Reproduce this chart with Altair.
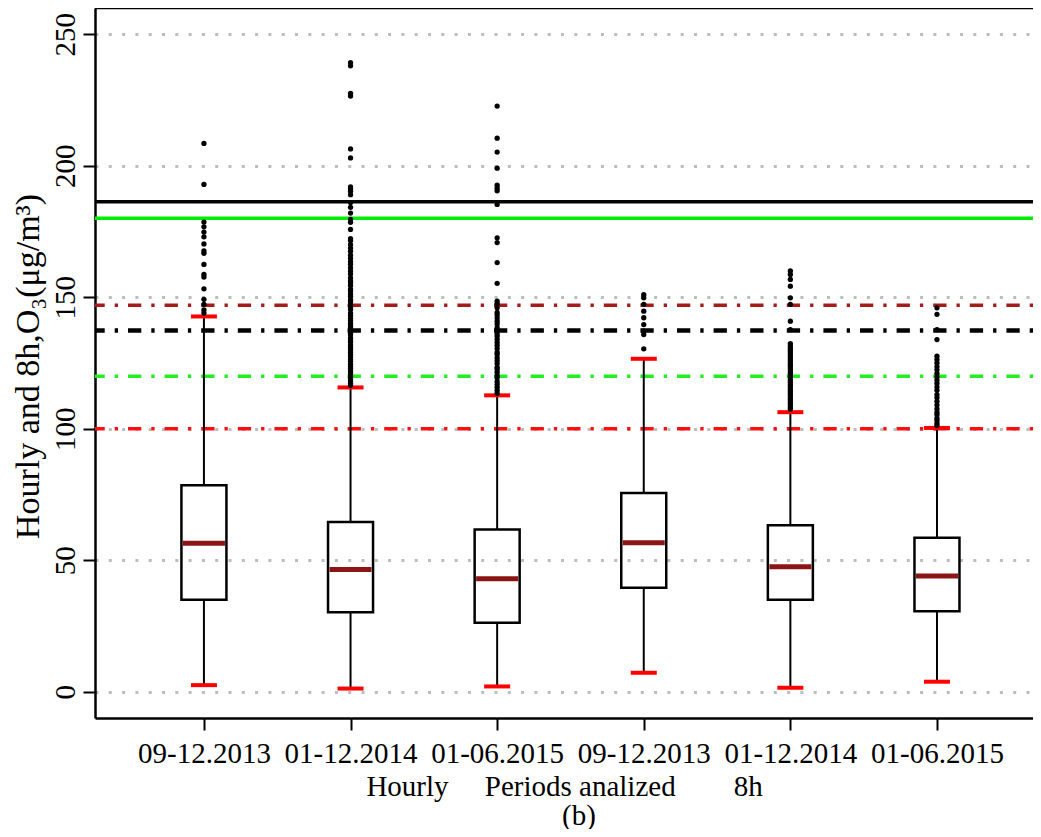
import json
import pandas as pd
import altair as alt

# ---------------- data ----------------
periods = ["09-12.2013", "01-12.2014", "01-06.2015", "09-12.2013", "01-12.2014", "01-06.2015"]
positions = [1, 2, 3, 4, 5, 6]
whisker_low = [2.5, 1.2, 2.0, 7.2, 1.5, 3.8]
q1 = [35.0, 30.2, 26.2, 39.5, 35.0, 30.6]
median = [56.5, 46.5, 43.0, 56.6, 47.5, 44.0]
q3 = [78.5, 64.5, 61.7, 75.6, 63.3, 58.5]
whisker_high = [142.7, 115.7, 112.7, 126.6, 106.3, 100.3]

outliers_1 = [144.0, 145.2, 147.3, 149.2, 153.2, 157.7, 158.7, 162.5, 166.7, 167.6,
              170.3, 173.0, 174.8, 176.8, 178.6, 192.9, 208.5]
outliers_2 = [116.5, 117.2, 118.0, 118.9, 119.6, 120.4, 121.3, 122.0, 123.0, 123.8,
              124.5, 125.6, 126.3, 127.4, 128.2, 129.0, 130.1, 131.0, 131.8, 132.9,
              133.6, 134.5, 135.7, 136.4, 137.2, 138.5, 139.3, 140.1, 141.2, 142.0,
              143.1, 144.0, 145.3, 146.1, 147.0, 148.2, 149.0, 150.3, 151.2, 152.4,
              153.1, 154.5, 155.6, 156.3, 157.4, 158.8, 160.0, 161.2, 162.6, 163.5,
              164.8, 166.0, 167.5, 168.7, 170.0, 171.6, 172.3, 175.8, 178.5, 179.6,
              182.0, 184.2, 186.0, 189.0, 190.3, 191.2, 192.0, 203.0, 206.4, 226.5,
              227.5, 238.0, 239.2]
outliers_3 = [113.5, 114.6, 115.8, 116.9, 118.0, 119.4, 120.2, 121.5, 122.6, 123.4,
              124.8, 125.9, 127.0, 128.3, 129.1, 130.5, 131.7, 132.8, 134.0, 135.2,
              136.1, 137.5, 138.4, 139.8, 140.9, 142.1, 143.3, 144.2, 146.0, 147.5,
              148.5, 155.3, 163.2, 170.8, 172.6, 185.3, 190.5, 191.5, 192.6, 199.1,
              205.2, 210.5, 222.7]
outliers_4 = [130.4, 135.8, 137.1, 139.6, 142.2, 144.7, 147.3, 149.8, 151.0]
outliers_5 = [107.5, 108.3, 109.2, 110.0, 110.9, 111.7, 112.6, 113.4, 114.3, 115.1,
              116.0, 116.8, 117.7, 118.5, 119.4, 120.2, 121.1, 122.0, 122.8, 123.7,
              124.5, 125.4, 126.2, 127.1, 128.0, 128.9, 129.8, 130.6, 131.5, 132.4,
              137.7, 140.9, 147.3, 149.8, 154.2, 156.8, 158.7, 160.0]
outliers_6 = [101.2, 102.0, 103.1, 104.0, 105.3, 106.2, 107.5, 109.0, 110.4, 111.8,
              113.0, 114.6, 115.9, 117.3, 118.5, 119.7, 121.0, 122.4, 123.6, 125.0,
              126.3, 127.6, 133.9, 137.7, 143.5, 146.0]

# threshold lines: solid black, solid green, brown dot-dash, black dot-dash, green dot-dash, red dot-dash
thresholds = [186.3, 180.0, 147.0, 137.4, 120.0, 100.0]
y_ticks = [0, 50, 100, 150, 200, 250]

# ---------------- tables ----------------
stats = pd.DataFrame({
    "pos": positions, "period": periods, "lo": whisker_low, "q1": q1,
    "med": median, "q3": q3, "hi": whisker_high,
})
out_rows = []
for p, vals in zip(positions, [outliers_1, outliers_2, outliers_3, outliers_4, outliers_5, outliers_6]):
    for v in vals:
        out_rows.append({"pos": p, "val": v})
outs = pd.DataFrame(out_rows)

W, H = 938, 710
FONT = "Liberation Serif"

xscale = alt.Scale(domain=[0.257, 6.655], nice=False, zero=False, padding=0)
yscale = alt.Scale(domain=[-10, 260], nice=False, zero=False, padding=0)

label_expr = json.dumps(periods) + "[datum.value - 1]"
nb = "\u00a0"
x_title = ["Hourly" + nb * 5 + "Periods analized" + nb * 8 + "8h", "\u200b" + nb * 4 + "(b)"]

x_axis = alt.Axis(values=positions, labelExpr=label_expr, grid=False,
                  tickSize=12, tickWidth=2, tickColor="black",
                  domainColor="black", domainWidth=2.5,
                  labelFont=FONT, labelFontSize=29, labelColor="black", labelPadding=9,
                  labelOverlap=False, labelFlush=False,
                  title=x_title, titleFont=FONT, titleFontSize=29, titleFontWeight="normal",
                  titleColor="black", titleBaseline="top", titleY=54, titleLineHeight=29)
y_axis = alt.Axis(values=y_ticks, grid=True, gridColor="#bdbdbd", gridWidth=3,
                  gridDash=[3, 10.3],
                  tickSize=12, tickWidth=2, tickColor="black",
                  domainColor="black", domainWidth=2.5,
                  labelFont=FONT, labelFontSize=29, labelColor="black",
                  labelAngle=270, labelAlign="center", labelBaseline="bottom", labelPadding=3,
                  labelFlush=False,
                  title="Hourly and 8h,O\u2083(\u03bcg/m\u00b3)", titleFont=FONT, titleFontSize=34,
                  titleFontWeight="normal", titleColor="black", titleAngle=270,
                  titleAlign="center", titleBaseline="middle", titleX=-67, titleY=358)

base_x = alt.X("pos:Q", scale=xscale, axis=x_axis)

# box outlines
boxes = alt.Chart(stats).mark_bar(width=45, fillOpacity=0, stroke="black", strokeWidth=2.5).encode(
    x=base_x,
    y=alt.Y("q1:Q", scale=yscale, axis=y_axis),
    y2="q3:Q",
)
whisk_lo = alt.Chart(stats).mark_rule(color="black", strokeWidth=2).encode(
    x="pos:Q", y="lo:Q", y2="q1:Q")
whisk_hi = alt.Chart(stats).mark_rule(color="black", strokeWidth=2).encode(
    x="pos:Q", y="q3:Q", y2="hi:Q")
meds = alt.Chart(stats).mark_tick(orient="horizontal", size=42, thickness=5,
                                  color="#8b1414", opacity=1).encode(
    x="pos:Q", y="med:Q")
caps_lo = alt.Chart(stats).mark_tick(orient="horizontal", size=26, thickness=4,
                                     color="#ff0000", opacity=1).encode(
    x="pos:Q", y="lo:Q")
caps_hi = alt.Chart(stats).mark_tick(orient="horizontal", size=26, thickness=4,
                                     color="#ff0000", opacity=1).encode(
    x="pos:Q", y="hi:Q")
points = alt.Chart(outs).mark_circle(size=28, color="black", opacity=1).encode(
    x="pos:Q", y="val:Q")


def hline(val, color, width, dash=None):
    kw = dict(color=color, strokeWidth=width)
    if dash is not None:
        kw["strokeDash"] = dash
    return alt.Chart(pd.DataFrame({"v": [val]})).mark_rule(**kw).encode(y="v:Q")


dotdash = [3.3, 10, 13.3, 10]
lines = [
    hline(thresholds[0], "black", 3.5),
    hline(thresholds[1], "#00ee00", 3.5),
    hline(thresholds[2], "#a51c1c", 3.5, dotdash),
    hline(thresholds[3], "black", 4.5, dotdash),
    hline(thresholds[4], "#22ee22", 3.5, dotdash),
    hline(thresholds[5], "#ff1010", 3.5, dotdash),
]

top_border = alt.Chart(pd.DataFrame({"v": [0]})).mark_rule(color="black", strokeWidth=2.5).encode(
    x=alt.value(0), x2=alt.value(W), y=alt.value(0))

chart = alt.layer(
    boxes, *lines, whisk_lo, whisk_hi, meds, caps_lo, caps_hi, points, top_border
).properties(
    width=W, height=H,
    autosize=alt.AutoSizeParams(type="none"),
    padding={"left": 87, "top": 0, "right": 0, "bottom": 111},
    background="white",
).configure_view(stroke=None)

chart.save("out.html", embed_options={"renderer": "svg", "actions": False})
